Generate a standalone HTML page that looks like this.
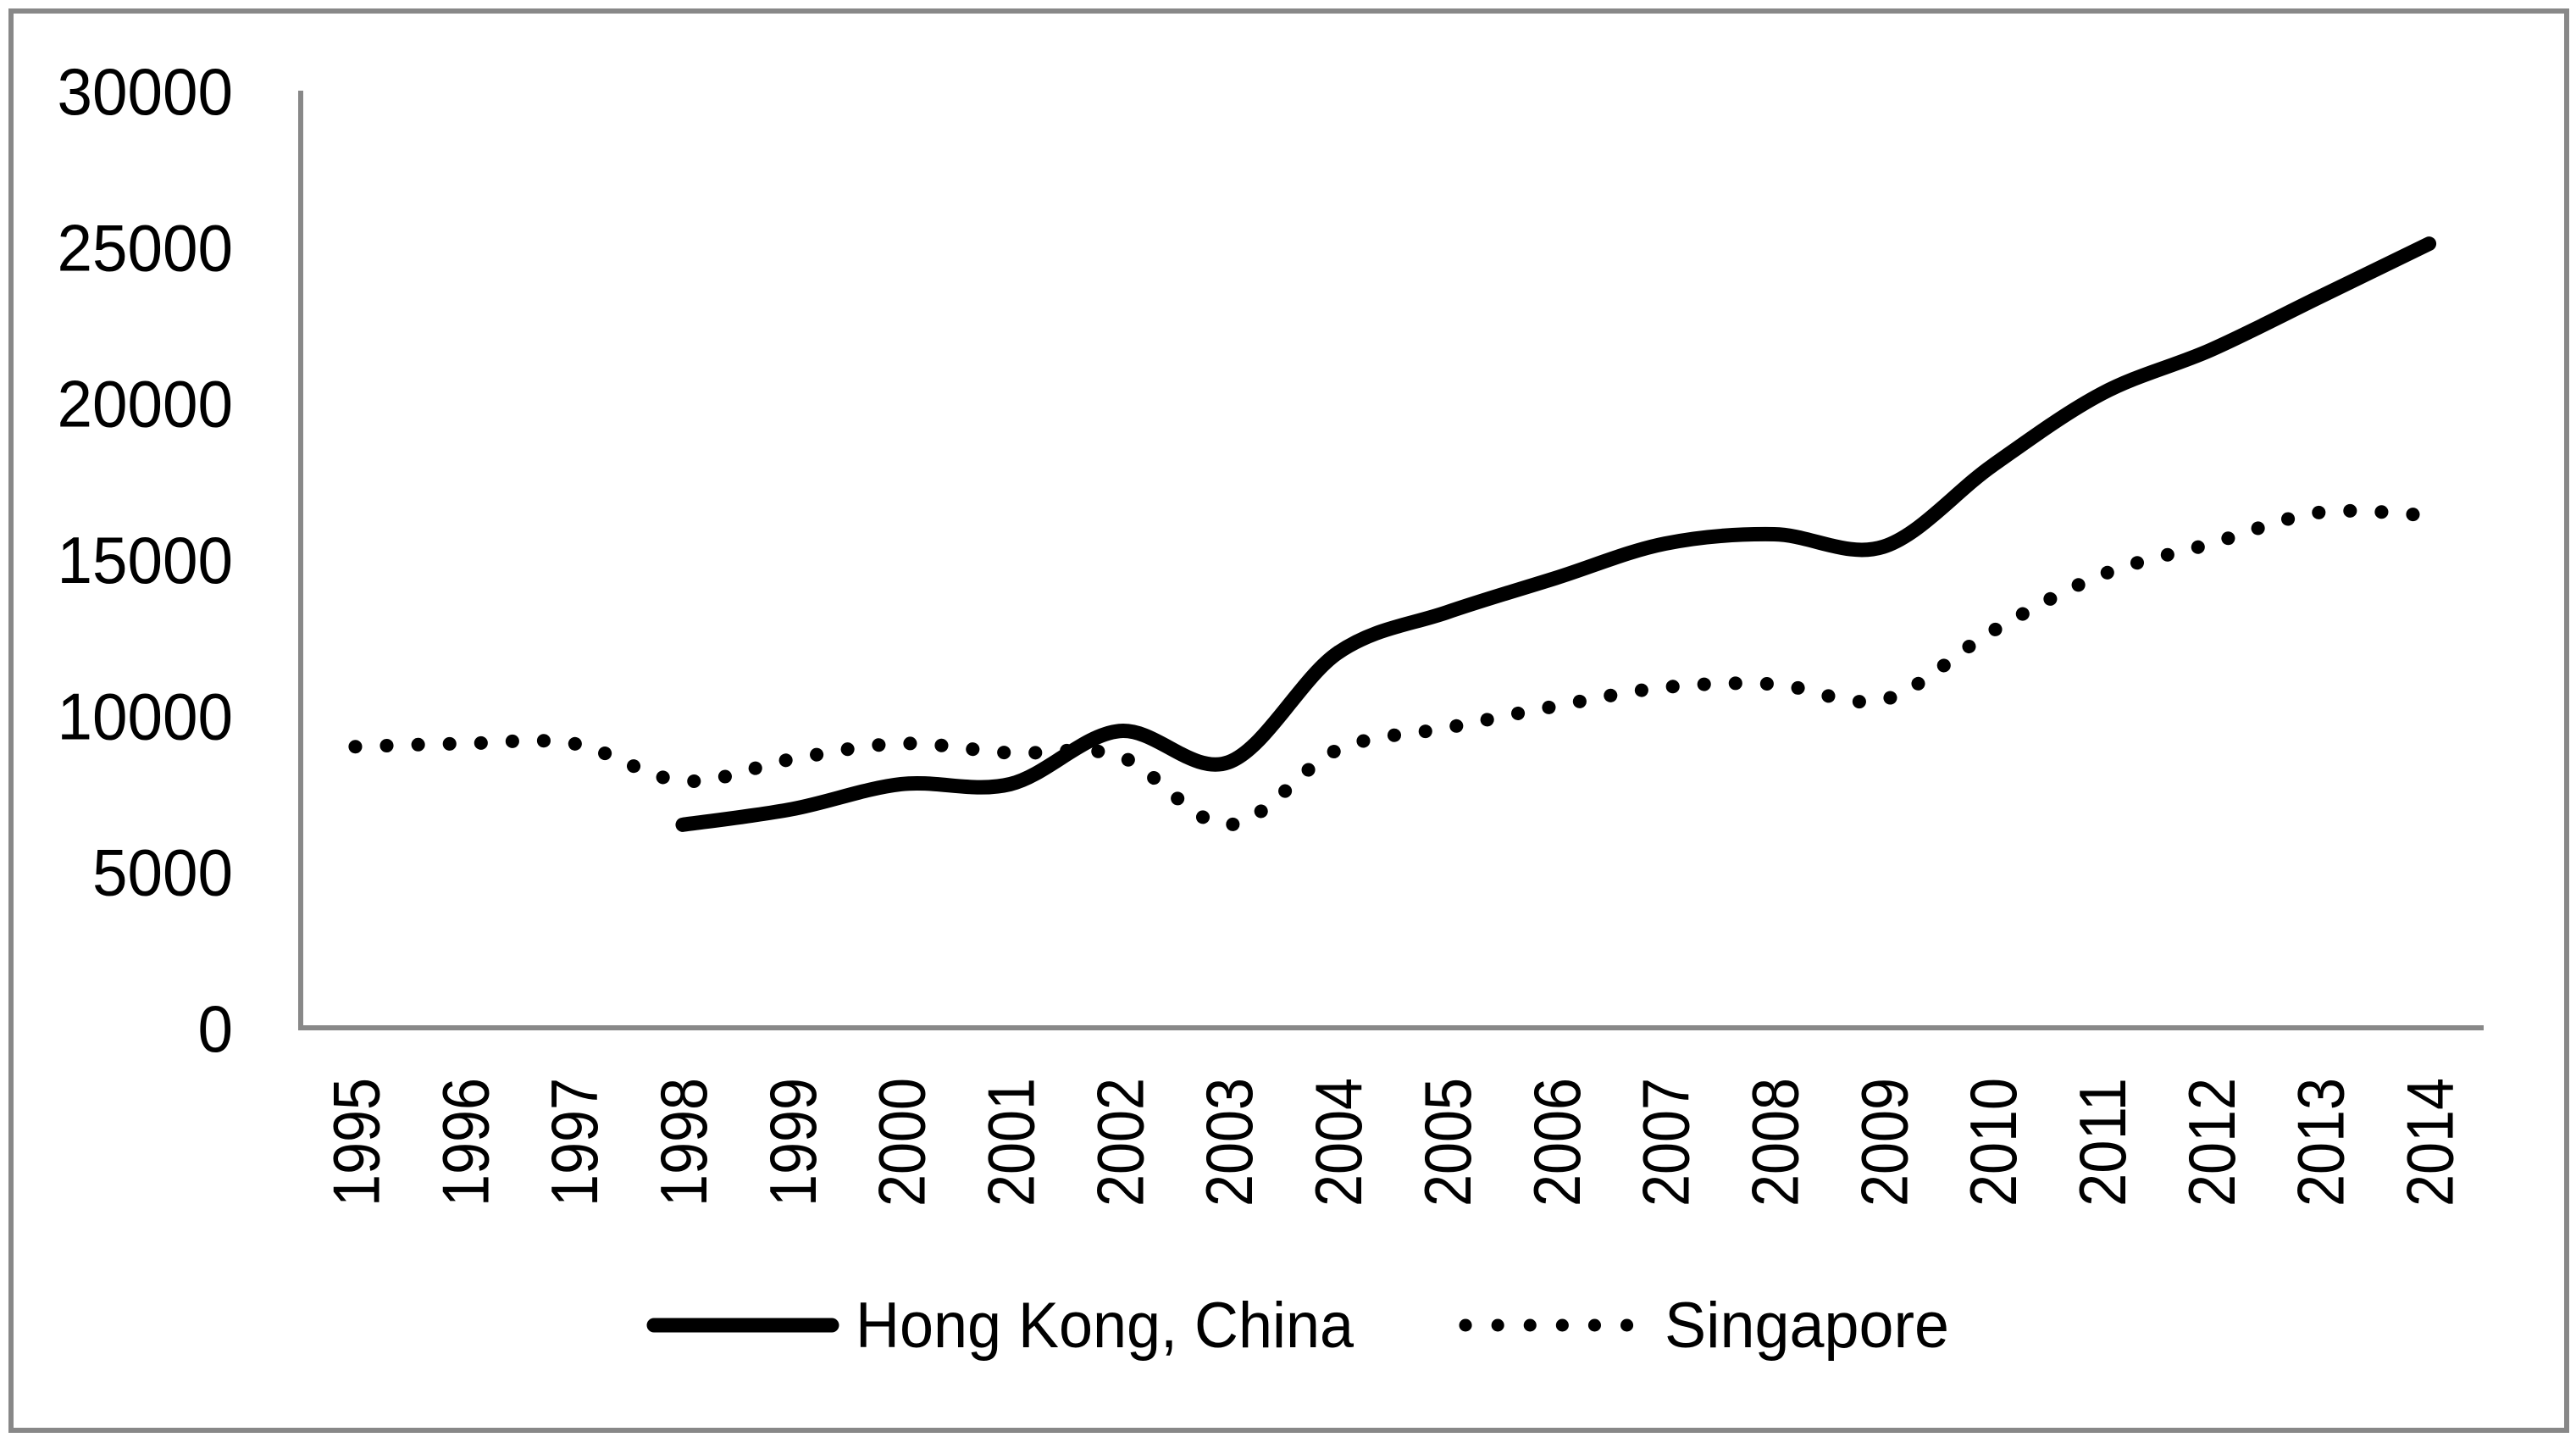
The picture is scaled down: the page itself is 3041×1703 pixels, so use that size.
<!DOCTYPE html>
<html><head><meta charset="utf-8"><style>
html,body{margin:0;padding:0;background:#fff;}
svg{display:block;font-family:"Liberation Sans",sans-serif;}
</style></head><body>
<svg id="chart" width="3041" height="1703" viewBox="0 0 3041 1703" xmlns="http://www.w3.org/2000/svg">
<rect x="13" y="13" width="3017" height="1675" fill="#fff" stroke="#888" stroke-width="6"/>
<g id="axes"></g>
<g id="series"></g>
<g>
<line x1="772" y1="1564" x2="982" y2="1564" stroke="#000" stroke-width="17" stroke-linecap="round"/>
<text x="1010" y="1590" font-size="76" textLength="588" lengthAdjust="spacingAndGlyphs">Hong Kong, China</text>
<line x1="1730" y1="1564" x2="1922" y2="1564" stroke="#000" stroke-width="15" stroke-linecap="round" stroke-dasharray="0.1 38"/>
<text x="1965" y="1590" font-size="76" textLength="336" lengthAdjust="spacingAndGlyphs">Singapore</text>
</g>
</svg>
<script>
const years = ['1995','1996','1997','1998','1999','2000','2001','2002','2003','2004','2005','2006','2007','2008','2009','2010','2011','2012','2013','2014'];
const hongKong = [null,null,null,6500,7000,7800,7800,9500,8500,12000,13300,14400,15500,15800,15400,18000,20300,21700,23400,25100];
const singapore = [9000,9100,9100,7900,8600,9100,8800,8700,6500,8900,9600,10300,10900,11000,10500,12700,14500,15500,16500,16400];
const yTicks = [0,5000,10000,15000,20000,25000,30000];

const NS='http://www.w3.org/2000/svg';
const X0=355,X1=2932,Y0=1213,Y1=107,YMAX=30000;
const band=(X1-X0)/years.length;
function xs(i){return X0+(i+0.5)*band;}
function ys(v){return Y0-v/YMAX*(Y0-Y1);}
function mk(tag,attrs,parent){const e=document.createElementNS(NS,tag);for(const k in attrs)e.setAttribute(k,attrs[k]);parent.appendChild(e);return e;}
const axes=document.getElementById('axes');
const yl=mk('line',{x1:X0,y1:Y1,x2:X0,y2:Y0,stroke:'#888','stroke-width':6},axes);


const xl=mk('line',{x1:X0-3,y1:Y0,x2:X1,y2:Y0,stroke:'#888','stroke-width':6},axes);


yTicks.forEach(v=>{
  const s=String(v);
  const t=mk('text',{x:275,y:ys(v)+28,'font-size':78,'text-anchor':'end',textLength:s.length*41.5,lengthAdjust:'spacingAndGlyphs'},axes);
  t.textContent=s;
  
  
});
years.forEach((y,i)=>{
  const x=xs(i);
  const t=mk('text',{x:0,y:0,'font-size':78,'text-anchor':'end',transform:`translate(${x+28},1272) rotate(-90)`,textLength:152,lengthAdjust:'spacingAndGlyphs'},axes);
  t.textContent=y;
  
  
});
function smoothPath(vals){
  const p=[];vals.forEach((v,i)=>{if(v!==null)p.push([xs(i),ys(v)]);});
  let d=`M${p[0][0]},${p[0][1]}`;
  for(let i=0;i<p.length-1;i++){
    const a=p[i-1]||p[i],b=p[i],c=p[i+1],e=p[i+2]||c;
    const t=1/6;
    d+=` C${b[0]+(c[0]-a[0])*t},${b[1]+(c[1]-a[1])*t} ${c[0]-(e[0]-b[0])*t},${c[1]-(e[1]-b[1])*t} ${c[0]},${c[1]}`;
  }
  return d;
}
const series=document.getElementById('series');
const sg=mk('path',{d:smoothPath(singapore),fill:'none',stroke:'#000','stroke-width':16,'stroke-linecap':'round','stroke-dasharray':'0.1 37'},series);


const hk=mk('path',{d:smoothPath(hongKong),fill:'none',stroke:'#000','stroke-width':17,'stroke-linecap':'round','stroke-linejoin':'round'},series);


</script>
</body></html>
